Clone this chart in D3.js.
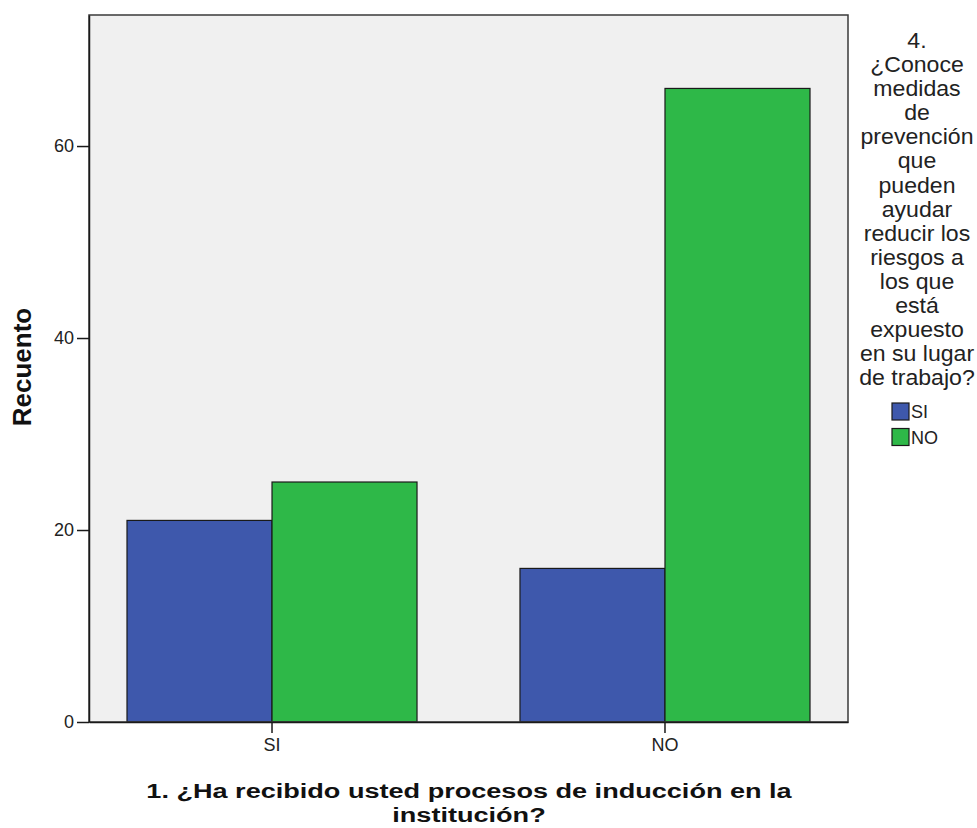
<!DOCTYPE html>
<html><head><meta charset="utf-8">
<script src="https://cdn.jsdelivr.net/npm/d3@7"></script>
<style>body{margin:0;background:#fff;} svg{display:block;font-family:"Liberation Sans",Arial,sans-serif;}</style>
</head><body>
<script>
const categories = ["SI", "NO"];
const seriesNames = ["SI", "NO"];
const valuesSI = [21, 16];
const valuesNO = [25, 66];
const yTicks = [0, 20, 40, 60];
const xTitleLines = ["1. ¿Ha recibido usted procesos de inducción en la", "institución?"];
const yTitle = "Recuento";
const legendTitleLines = ["4.", "¿Conoce", "medidas", "de", "prevención", "que", "pueden", "ayudar", "reducir los", "riesgos a", "los que", "está", "expuesto", "en su lugar", "de trabajo?"];
const colors = ["#3e58ac", "#2eb848"];

const W = 977, H = 828;
const plot = {l: 89, r: 848, t: 15, b: 722};

const svg = d3.select("body").append("svg").attr("width", W).attr("height", H);

const x = d3.scaleBand().domain(categories).range([plot.l, plot.r]).paddingInner(0.262).paddingOuter(0.0967);
const xs = d3.scaleBand().domain(seriesNames).range([0, x.bandwidth()]);
const y = d3.scaleLinear().domain([0, 73.65]).range([plot.b, plot.t]);

svg.append("rect").attr("x", plot.l).attr("y", plot.t).attr("width", plot.r - plot.l).attr("height", plot.b - plot.t)
  .attr("fill", "#f0f0f0");

const data = categories.map((c, i) => ({cat: c, vals: [valuesSI[i], valuesNO[i]]}));
const g = svg.append("g");
data.forEach(d => {
  d.vals.forEach((v, j) => {
    g.append("rect")
      .attr("x", x(d.cat) + xs(seriesNames[j]))
      .attr("y", y(v))
      .attr("width", xs.bandwidth())
      .attr("height", y(0) - y(v))
      .attr("fill", colors[j])
      .attr("stroke", "#1a1a1a").attr("stroke-width", 1.2);
  });
});

svg.append("rect").attr("x", plot.l).attr("y", plot.t).attr("width", plot.r - plot.l).attr("height", plot.b - plot.t)
  .attr("fill", "none").attr("stroke", "#3a3a3a").attr("stroke-width", 1.5);

// Y axis
const yAxis = svg.append("g").attr("transform", `translate(${plot.l},0)`)
  .call(d3.axisLeft(y).tickValues(yTicks).tickSize(12).tickSizeOuter(0).tickPadding(3).tickFormat(d3.format("d")));
yAxis.select(".domain").attr("stroke", "#1a1a1a").attr("stroke-width", 1.5);
yAxis.selectAll(".tick line").attr("stroke", "#1a1a1a").attr("stroke-width", 1.5);
yAxis.selectAll("text").attr("font-size", 18).attr("fill", "#222").attr("font-family", "Liberation Sans, Arial, sans-serif");

// X axis
const xAxis = svg.append("g").attr("transform", `translate(0,${plot.b})`)
  .call(d3.axisBottom(x).tickSize(11).tickSizeOuter(0).tickPadding(5));
xAxis.select(".domain").attr("stroke", "#1a1a1a").attr("stroke-width", 1.5);
xAxis.selectAll(".tick line").attr("stroke", "#1a1a1a").attr("stroke-width", 1.5);
xAxis.selectAll("text").attr("font-size", 18).attr("fill", "#222").attr("font-family", "Liberation Sans, Arial, sans-serif");

// X title (horizontally stretched like the reference)
const xt = svg.append("text").attr("text-anchor", "middle").attr("font-weight", "bold").attr("font-size", 21).attr("fill", "#111")
  .attr("transform", "translate(469,0) scale(1.29,1)");
xTitleLines.forEach((t, i) => {
  xt.append("tspan").attr("x", 0).attr("y", 798 + i * 24).text(t);
});

// Y title
svg.append("text").attr("transform", "translate(31,367) rotate(-90)").attr("text-anchor", "middle")
  .attr("font-weight", "bold").attr("font-size", 26).attr("fill", "#111").text(yTitle);

// Legend
const lt = svg.append("text").attr("text-anchor", "middle").attr("font-size", 22).attr("fill", "#222")
  .attr("transform", "translate(917,0) scale(1.05,1)");
legendTitleLines.forEach((t, i) => {
  lt.append("tspan").attr("x", 0).attr("y", 48 + i * 24.1).text(t);
});
seriesNames.forEach((s, i) => {
  const yy = 403 + i * 25.5;
  svg.append("rect").attr("x", 892).attr("y", yy).attr("width", 17).attr("height", 17)
    .attr("fill", colors[i]).attr("stroke", "#1a1a1a").attr("stroke-width", 1.2);
  svg.append("text").attr("x", 911).attr("y", yy + 15).attr("font-size", 18).attr("fill", "#222").text(s);
});
</script>
</body></html>
